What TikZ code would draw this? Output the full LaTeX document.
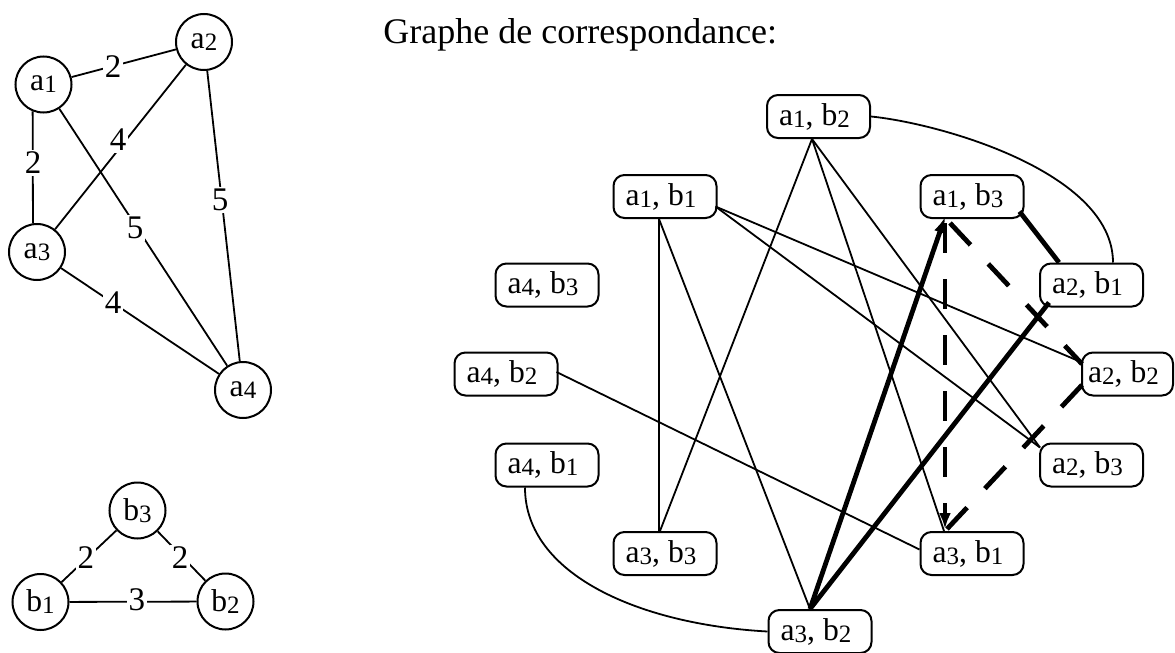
\documentclass[tikz,border=0pt]{standalone}
\usepackage{fontspec}
\setmainfont{Liberation Serif}
\usetikzlibrary{calc,arrows.meta}
\newcommand\dg[1]{\lower1pt\hbox{\fontsize{12.5}{13}\selectfont #1}}
\newcommand\pr[2]{a\dg{#1}, b\dg{#2}\kern4pt}
\begin{document}
\begin{tikzpicture}[x=0.5pt,y=-0.5pt,
  font=\fontsize{15.8}{18}\selectfont,
  vtx/.style={circle,draw,line width=1pt,minimum size=28pt,inner sep=0pt},
  pairbox/.style={draw,rounded corners=5.5pt,line width=1pt,minimum width=51.5pt,minimum height=21.5pt,inner sep=0pt},
  wlab/.style={fill=white,inner sep=1pt,font=\fontsize{16.5}{18}\selectfont},
  thinedge/.style={line width=0.9pt},
  boldedge/.style={line width=2.4pt},
  dashedge/.style={line width=2.4pt,dash pattern=on 15pt off 13pt},
  tip/.style={-{Latex[length=8pt,width=6pt]}}]
\useasboundingbox (0,0) rectangle (1175,653);

% ---- graph A ----
\node[vtx] (a1) at (43.5,84.5) {a\dg1};
\node[vtx] (a2) at (204,42) {a\dg2};
\node[vtx] (a3) at (37,252) {a\dg3};
\node[vtx] (a4) at (243,390) {a\dg4};
\draw[thinedge] (a1) -- (a2);
\draw[thinedge] (a1.248) -- (a3.98);
\draw[thinedge] (a2) -- (a3);
\draw[thinedge] (a1) -- (a4);
\draw[thinedge] (a2) -- (a4);
\draw[thinedge] (a3) -- (a4);
\node[wlab] (l12) at (113,67) {2};
\node[wlab] (l13) at (33,163) {2};
\node[wlab] (l23) at (118,140) {4};
\node[wlab] (l14) at (135,228) {5};
\node[wlab] (l24) at (220,200) {5};
\node[wlab] (l34) at (113,303) {4};

% ---- graph B ----
\node[vtx] (b1) at (40.5,602) {b\dg1};
\node[vtx] (b2) at (225.5,601.5) {b\dg2};
\node[vtx] (b3) at (137.5,510.5) {b\dg3};
\draw[thinedge] (b1) -- (b3);
\draw[thinedge] (b3) -- (b2);
\draw[thinedge] (b1) -- (b2);
\node[wlab] (m13) at (86,558) {2};
\node[wlab] (m32) at (180,558) {2};
\node[wlab] (m12) at (137,600) {3};

% ---- correspondence graph ----
\node[anchor=base west,inner sep=0pt,font=\fontsize{18}{20}\selectfont] (title) at (383,43) {Graphe de correspondance:};

\node[pairbox] (a1b2) at (818.5,116.5) {\pr12};
\node[pairbox] (a1b1) at (665,196.5) {\pr11};
\node[pairbox] (a1b3) at (972,196.5) {\pr13};
\node[pairbox] (a2b1) at (1091.5,285) {\pr21};
\node[pairbox] (a4b3) at (547,285) {\pr43};
\node[pairbox] (a4b2) at (506,374) {\pr42};
\node[pairbox,minimum width=45.5pt] (a2b2) at (1127.5,374) {\pr22};
\node[pairbox] (a4b1) at (547,465) {\pr41};
\node[pairbox] (a2b3) at (1091.5,465) {\pr23};
\node[pairbox] (a3b3) at (665,553.5) {\pr33};
\node[pairbox] (a3b1) at (972,553.5) {\pr31};
\node[pairbox] (a3b2) at (820,631.5) {\pr32};

% thin edges
\draw[thinedge] (a1b2.east) .. controls +(70,7) and +(0,-90) .. ($(a2b1.north)+(21.5,0)$);
\draw[thinedge] ($(a1b2.south)+(-6.5,0)$) -- ($(a3b3.north)+(-5,0)$);
\draw[thinedge] ($(a1b2.south)+(-6.5,0)$) -- ($(a3b1.north)+(-28,0)$);
\draw[thinedge] ($(a1b2.south)+(-6.5,0)$) -- ($(a2b3.north west)+(1,5)$);
\draw[thinedge] ($(a1b1.south)+(-6,0)$) -- ($(a3b3.north)+(-6,0)$);
\draw[thinedge] ($(a1b1.south)+(-6,0)$) -- ($(a3b2.north)+(-10,0)$);
\draw[thinedge] ($(a1b1.east)+(-2,10)$) -- ($(a2b2.west)+(0,-12)$);
\draw[thinedge] ($(a1b1.east)+(-2,10)$) -- ($(a2b3.north west)+(1,5)$);
\draw[thinedge] ($(a4b2.east)+(-2,-2)$) -- ($(a3b1.west)+(0,-4)$);
\draw[thinedge] ($(a4b1.south)+(-22,0)$) .. controls +(0,87) and +(-128,-7) .. (a3b2.west);

% bold edges
\draw[boldedge,tip] ($(a3b2.north)+(-10,0)$) -- ($(a1b3.south)+(-27,-2)$);
\draw[boldedge] ($(a3b2.north)+(-10,0)$) -- ($(a2b1.south west)+(10,-5)$);
\draw[boldedge] ($(a1b3.east)+(-5,15)$) -- ($(a2b1.north west)+(20,0)$);

% dashed bold edges
\draw[dashedge,tip] ($(a1b3.south)+(-27,4)$) -- ($(a3b1.north)+(-27,-2)$);
\draw[dashedge] ($(a1b3.south)+(-22,4)$) -- ($(a2b2.west)+(1,-10)$);
\draw[dashedge] ($(a2b2.west)+(1,11)$) -- ($(a3b1.north)+(-25,-2)$);
\end{tikzpicture}
\end{document}
